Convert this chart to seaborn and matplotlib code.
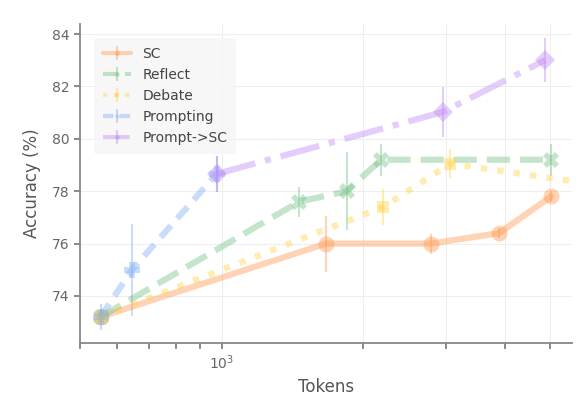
import numpy as np
import matplotlib
matplotlib.use("Agg")
import matplotlib.pyplot as plt
import matplotlib.ticker as mticker
from matplotlib.lines import Line2D
import seaborn as sns

# values
sc_tokens = [553, 1667, 2788, 3890, 5018]
sc_acc = [73.2, 76.0, 76.0, 76.4, 77.8]
sc_err = [0.2, 1.07, 0.38, 0.2, 0.2]

reflect_tokens = [553, 1463, 1845, 2182, 5018]
reflect_acc = [73.2, 77.6, 78.0, 79.2, 79.2]
reflect_err = [0.3, 0.57, 1.5, 0.62, 0.62]

debate_tokens = [553, 2208, 3060, 6000]
debate_acc = [73.2, 77.4, 79.05, 78.3]
debate_err = [0.3, 0.7, 0.56, 0.5]

prompting_tokens = [553, 645, 976]
prompting_acc = [73.2, 75.0, 78.66]
prompting_err = [0.5, 1.75, 0.7]

promptsc_tokens = [976, 2951, 4873]
promptsc_acc = [78.66, 81.02, 83.0]
promptsc_err = [0.7, 0.96, 0.84]

sns.set_theme(style="ticks")
plt.rcParams['font.family'] = ['DejaVu Sans']

series = [
    ("SC", sc_tokens, sc_acc, sc_err, "#ff9a52", "-", "o", 11.5),
    ("Reflect", reflect_tokens, reflect_acc, reflect_err, "#74c283", "--", "X", 11),
    ("Debate", debate_tokens, debate_acc, debate_err, "#ffd246", ":", "s", 9),
    ("Prompting", prompting_tokens, prompting_acc, prompting_err, "#80aef5", (0, (2.5, 1.5)), "P", 11),
    ("Prompt->SC", promptsc_tokens, promptsc_acc, promptsc_err, "#bf8af5", "-.", "D", 10),
]

fig = plt.figure(figsize=(5.88, 4.08), dpi=100)
ax = fig.add_axes([0.136, 0.159, 0.837, 0.782])

for name, x, y, e, col, ls, mk, ms in series:
    ax.errorbar(x, y, yerr=e, label=name, color=col, linestyle=ls, linewidth=4.5,
                marker=mk, markersize=ms, elinewidth=1.5, capsize=0, alpha=0.42,
                markeredgewidth=0)

ax.set_xscale("log")
ax.set_xlim(500, 5560)
ax.set_ylim(72.2, 84.38)
ax.set_yticks([74, 76, 78, 80, 82, 84])

ax.xaxis.set_major_locator(mticker.FixedLocator([1000, 2000, 3000, 4000, 5000]))
ax.xaxis.set_major_formatter(mticker.FuncFormatter(
    lambda v, p: r"$\mathdefault{10^{3}}$" if abs(v - 1000) < 1 else ""))
ax.xaxis.set_minor_locator(mticker.FixedLocator([500, 600, 700, 800, 900]))
ax.xaxis.set_minor_formatter(mticker.NullFormatter())

ax.grid(True, which="major", color="#eeeeee", linewidth=0.8)
ax.tick_params(axis="both", which="both", length=4, width=1.2, color="#777777",
               labelcolor="#666666", labelsize=10)

for side in ["top", "right"]:
    ax.spines[side].set_visible(False)
for side in ["left", "bottom"]:
    ax.spines[side].set_color("#888888")
    ax.spines[side].set_linewidth(1.3)

ax.set_xlabel("Tokens", fontsize=12, color="#555555")
ax.set_ylabel("Accuracy (%)", fontsize=12, color="#555555", labelpad=8)

leg = ax.legend(loc="upper left", bbox_to_anchor=(0.015, 0.978), fontsize=10,
                markerscale=0.3, frameon=True, labelcolor="#444444",
                borderpad=0.65, labelspacing=0.5)
leg.get_frame().set_facecolor("#f6f6f6")
leg.get_frame().set_edgecolor("none")
leg.get_frame().set_alpha(0.8)
for ln in leg.findobj(Line2D):
    if ln.get_linewidth() > 3:
        ln.set_linewidth(3)

fig.savefig("out.png", dpi=100)
